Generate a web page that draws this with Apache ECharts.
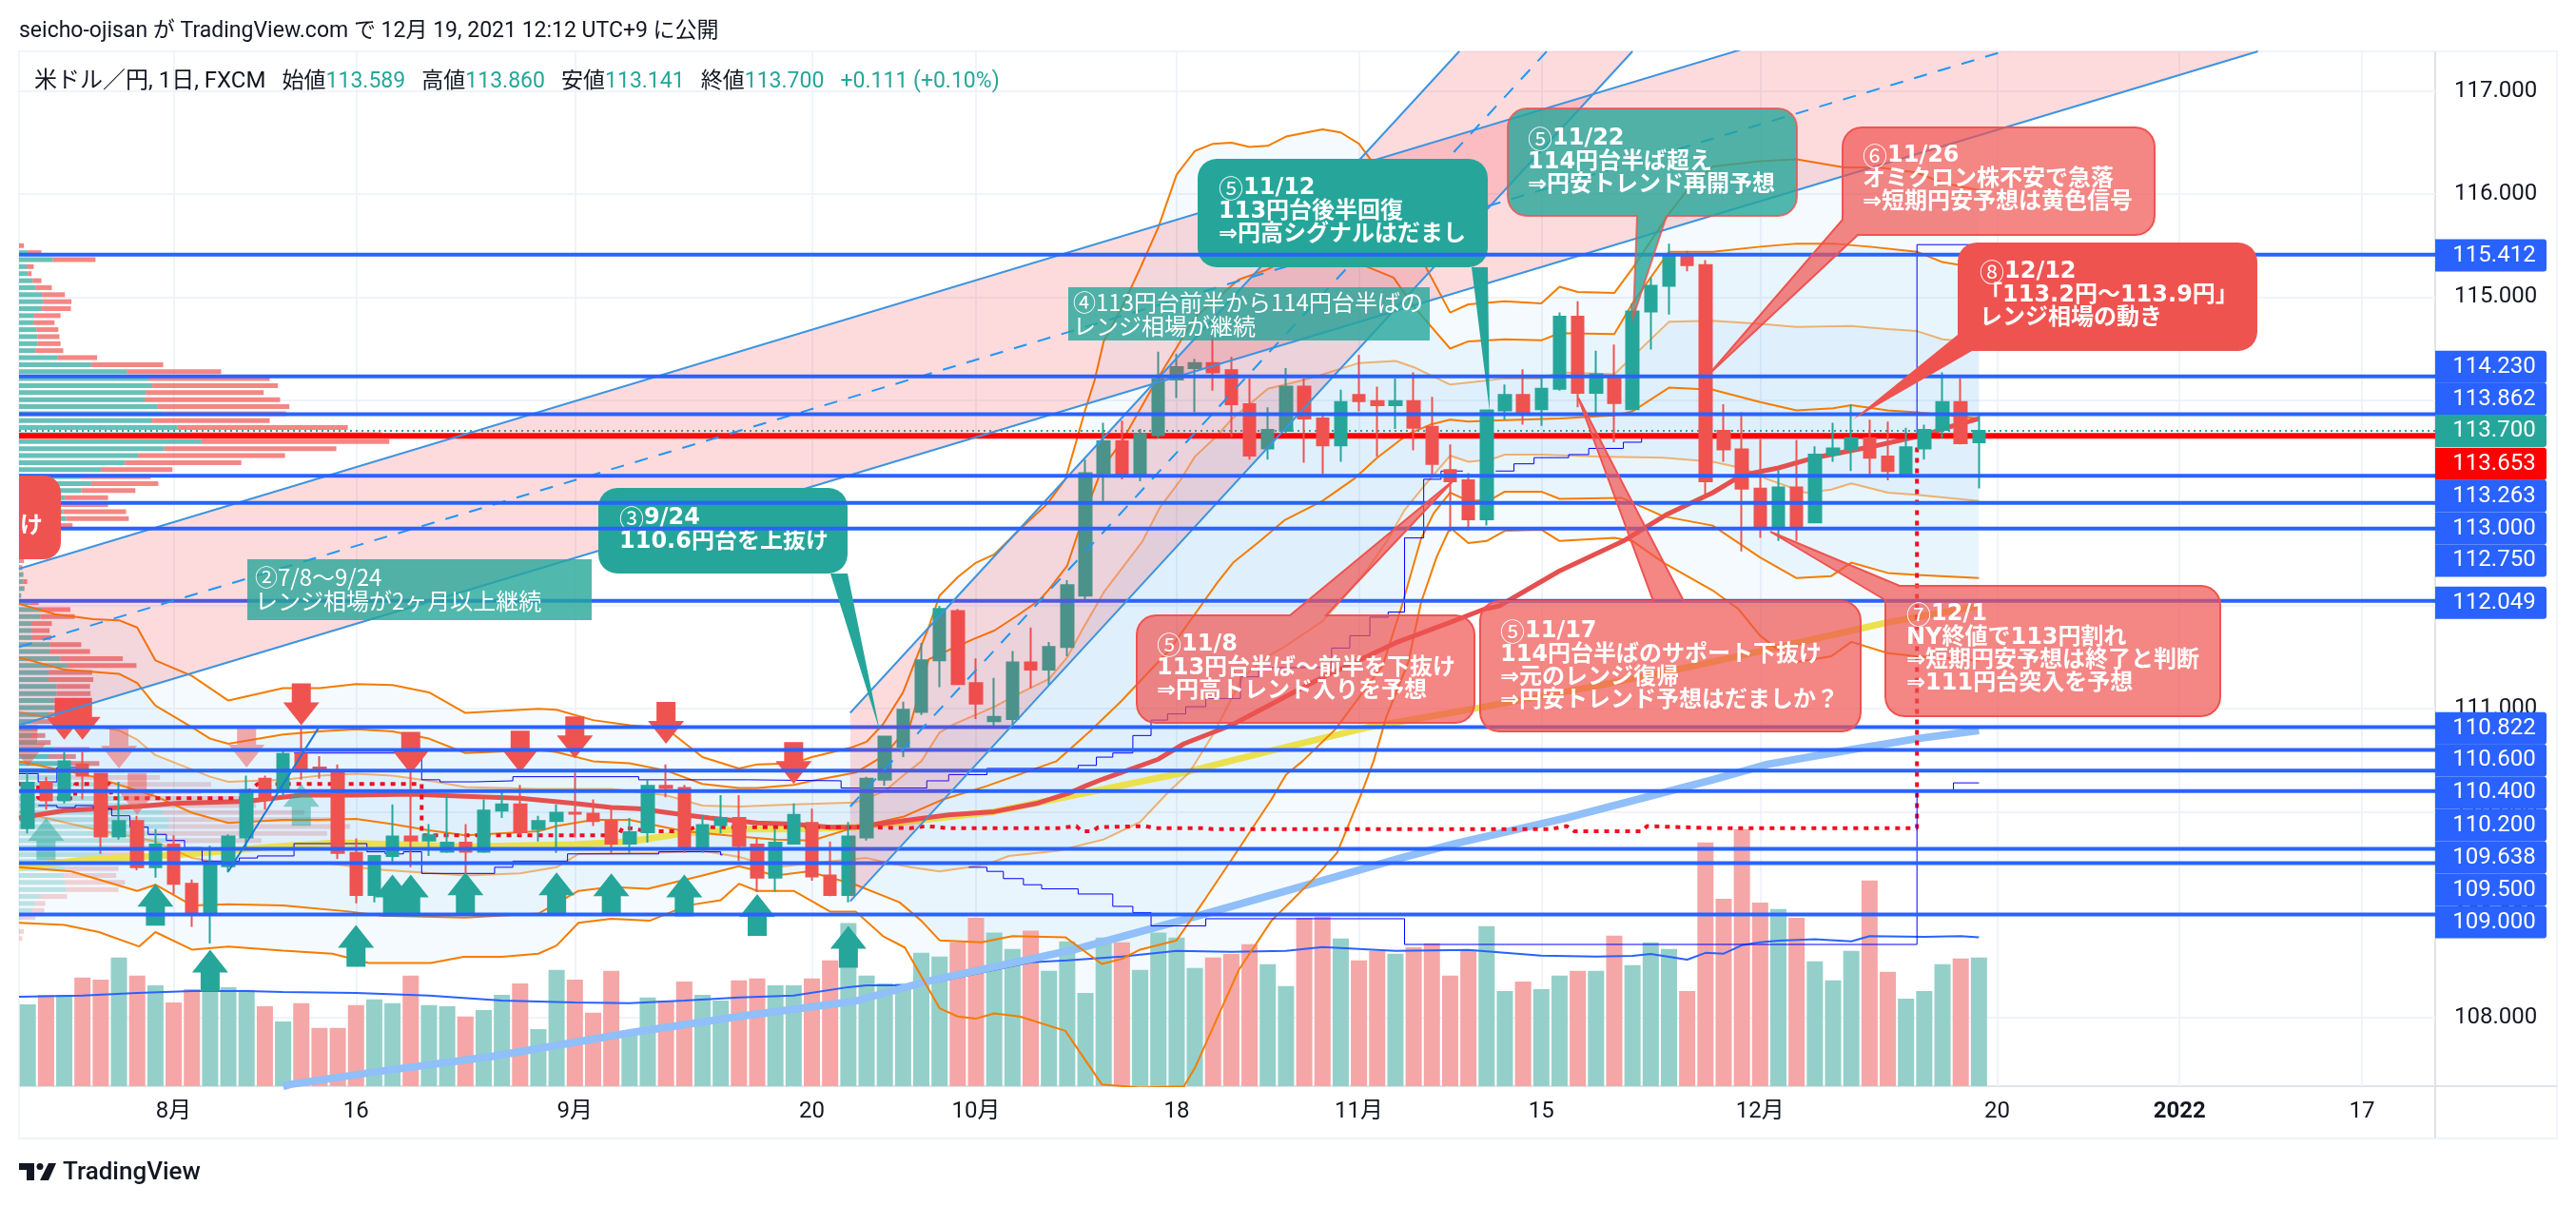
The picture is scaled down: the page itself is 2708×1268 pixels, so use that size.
<!DOCTYPE html>
<html>
<head>
<meta charset="utf-8">
<script src="https://cdn.jsdelivr.net/npm/echarts@6/dist/echarts.min.js"></script>
<style>
html, body { margin: 0; padding: 0; background: #ffffff; }
#container { width: 2708px; height: 1268px; }
</style>
</head>
<body>
<div id="container"></div>
<script type="text/javascript">
// open, close, low, high  (USD/JPY daily, index 0 = 2021-07-21)
var ohlc = [
[109.84,110.28,109.79,110.38],[110.28,110.11,110.02,110.34],[110.11,110.49,110.08,110.58],[110.46,110.35,110.12,110.58],
[110.37,109.76,109.59,110.37],[109.76,109.91,109.73,110.29],[109.91,109.46,109.43,109.96],[109.46,109.68,109.36,109.83],
[109.68,109.30,109.20,109.77],[109.30,109.02,108.88,109.34],[109.02,109.50,108.72,109.67],[109.47,109.76,109.41,109.78],
[109.75,110.21,109.64,110.35],[110.32,110.12,110.02,110.35],[110.21,110.56,110.16,110.59],[110.56,110.42,110.31,110.81],
[110.43,110.41,110.32,110.54],[110.38,109.60,109.54,110.46],[109.60,109.19,109.11,109.74],[109.19,109.57,109.12,109.57],
[109.57,109.76,109.51,110.07],[109.76,109.72,109.46,110.38],[109.72,109.77,109.57,109.88],[109.61,109.70,109.60,110.16],
[109.70,109.61,109.40,109.88],[109.61,110.01,109.60,110.12],[110.01,110.07,109.94,110.21],[110.07,109.80,109.77,110.26],
[109.83,109.91,109.71,109.96],[109.91,109.99,109.60,110.07],[109.99,109.98,109.75,110.38],[109.98,109.91,109.86,110.12],
[109.91,109.69,109.60,110.03],[109.69,109.80,109.60,109.94],[109.80,110.25,109.70,110.31],[110.25,110.23,110.14,110.46],
[110.23,109.64,109.60,110.26],[109.64,109.87,109.60,109.97],[109.87,109.94,109.79,110.16],[109.94,109.67,109.52,110.16],
[109.68,109.36,109.22,109.74],[109.36,109.70,109.22,109.83],[109.69,109.97,109.68,110.08],[109.89,109.37,109.33,110.03],
[109.38,109.19,109.18,109.71],[109.19,109.76,109.12,109.90],[109.75,110.32,109.72,110.34],[110.31,110.73,110.25,110.73],
[110.63,110.99,110.53,111.07],[110.97,111.47,110.94,111.64],[111.47,111.97,111.21,112.00],[111.95,111.24,111.23,111.97],
[111.25,111.05,110.90,111.49],[110.88,110.92,110.82,111.30],[110.90,111.45,110.84,111.56],[111.45,111.38,111.20,111.79],
[111.38,111.60,111.23,111.65],[111.60,112.20,111.51,112.25],[112.10,113.29,112.05,113.42],[113.29,113.60,113.02,113.78],
[113.60,113.27,113.23,113.80],[113.27,113.67,113.21,113.72],[113.66,114.20,113.63,114.47],[114.20,114.32,114.02,114.45],
[114.31,114.36,113.88,114.40],[114.36,114.27,114.09,114.61],[114.29,113.96,113.64,114.42],[113.96,113.46,113.42,114.21],
[113.53,113.71,113.42,113.93],[113.70,114.13,113.68,114.31],[114.13,113.82,113.39,114.21],[113.82,113.56,113.28,113.85],
[113.56,113.98,113.40,114.10],[114.05,113.99,113.89,114.44],[113.99,113.95,113.45,114.13],[113.95,113.99,113.72,114.21],
[113.99,113.73,113.51,114.27],[113.74,113.38,113.27,114.03],[113.32,113.21,112.72,113.57],[113.22,112.84,112.73,113.29],
[112.84,113.90,112.78,113.90],[113.90,114.05,113.81,114.15],[114.05,113.88,113.76,114.30],[113.91,114.11,113.75,114.21],
[114.11,114.81,114.09,114.85],[114.81,114.07,113.93,114.96],[114.07,114.25,113.87,114.48],[114.21,113.97,113.59,114.54],
[113.91,114.86,113.90,114.94],[114.86,115.11,114.49,115.19],[115.11,115.40,114.83,115.52],[115.40,115.31,115.25,115.45],
[115.31,113.21,113.08,115.36],[113.70,113.52,113.40,113.96],[113.52,113.14,112.53,113.88],[113.14,112.77,112.66,113.62],
[112.77,113.15,112.63,113.32],[113.15,112.77,112.63,113.61],[112.81,113.47,112.81,113.55],[113.47,113.53,113.40,113.78],
[113.52,113.63,113.31,113.96],[113.63,113.44,113.28,113.81],[113.45,113.31,113.22,113.79],[113.27,113.54,113.27,113.73],
[113.53,113.71,113.42,113.76],[113.71,113.98,113.63,114.27],[113.98,113.58,113.57,114.21],[113.589,113.700,113.141,113.860]
];
// volume, arbitrary units
var volume = [215,240,240,285,280,338,290,265,220,255,247,260,253,210,170,218,153,153,213,228,218,290,213,210,183,200,240,270,150,305,
280,193,303,140,233,225,275,240,225,278,283,265,265,283,330,428,290,270,270,350,340,378,442,403,360,408,303,380,245,390,
378,305,403,390,310,338,347,373,320,263,442,445,388,330,355,348,365,375,290,355,420,250,275,255,290,303,303,395,318,378,
360,250,640,492,675,482,465,442,328,278,355,540,300,230,250,320,335,338];
var volumeMa = [[-0.48,235],[3,238],[6,245],[9,250],[12,250],[14,247],[18,245],[22,238],[26,225],[30,220],[33,218],[36,225],[39,233],[42,238],[45,260],[46,265],[48,265],[50,275],[55,325],[57,330],[60,340],[63,355],[66,353],[69,355],[71,365],[74,358],[75,355],[79,358],[83,343],[86,340],[88,342],[89,347],[91,332],[92,350],[93,348],[94,370],[95,378],[96,382],[98,386],[100,380],[101,394],[104,392],[106,394],[107,391]];
var bbUpper3 = [[-0.48,112.02],[1.5,111.92],[3.6,111.87],[5,111.86],[6,111.79],[7,111.47],[9,111.32],[11,111.08],[14,111.20],[16,111.20],[18,111.24],[20,111.23],[22,111.16],[24,110.96],[28,111.00],[29,110.99],[31,110.89],[33,110.84],[35,110.81],[37,110.53],[39,110.42],[40,110.46],[42,110.47],[43,110.53],[45.1,110.62],[46,110.68],[46.9,110.85],[48,111.16],[48.7,111.48],[49.4,111.79],[50,112.10],[51,112.28],[52,112.42],[53,112.50],[54.5,112.76],[55.9,112.99],[56.9,113.23],[57.5,113.60],[58,113.91],[58.5,114.19],[59,114.57],[60,114.90],[61,115.28],[62,115.68],[63,116.19],[64,116.42],[65,116.49],[66,116.50],[67,116.46],[68,116.47],[69,116.56],[71,116.63],[72,116.60],[73,116.49],[74,116.25],[76.7,115.28],[78,114.85],[79,114.93],[81,114.96],[83,114.94],[84,115.10],[85,115.05],[87,115.04],[88,115.28],[90,115.81],[91,116.04],[92.4,116.27],[95,116.32],[97,116.34],[99.6,116.26],[101.5,116.26],[103.6,116.21],[105,116.11],[107,116.04]];
var bbUpper2 = [[-0.48,111.50],[2,111.38],[5,111.34],[6,111.25],[7,111.03],[9,110.82],[10,110.71],[11,110.66],[14,110.75],[16,110.78],[18,110.80],[20,110.78],[22,110.71],[24,110.57],[28,110.60],[29,110.58],[31,110.49],[33,110.47],[35,110.40],[37,110.27],[39,110.23],[40,110.23],[42,110.26],[43,110.30],[45.4,110.38],[47,110.55],[48.4,110.85],[49.4,111.48],[50.5,111.57],[51.9,111.68],[53,111.76],[54.3,111.91],[55.5,112.06],[56,112.16],[57,112.39],[57.6,112.71],[58.3,113.05],[58.9,113.33],[60,113.60],[61,113.91],[61.8,114.16],[64,114.80],[66.4,115.17],[68,115.27],[69,115.36],[72,115.40],[74.9,115.19],[76,114.91],[78,114.50],[79,114.57],[81,114.59],[83,114.58],[84,114.65],[87,114.64],[88,114.94],[90,115.44],[92.4,115.44],[95,115.49],[97,115.52],[99,115.52],[101,115.49],[103.6,115.44],[105,115.34],[107,115.28]];
var bbUpper1 = [[-0.48,110.97],[1.5,110.90],[5,110.79],[6,110.70],[7,110.55],[10,110.34],[11,110.29],[14,110.31],[16,110.35],[18,110.37],[20,110.35],[22.4,110.29],[24,110.24],[28,110.22],[32,110.22],[35,110.16],[37,110.06],[39,110.05],[42,110.07],[45.4,110.09],[47,110.20],[48,110.35],[49,110.49],[50,110.77],[50.8,110.85],[53,111.02],[54.5,111.16],[56,111.29],[57,111.50],[57.8,111.76],[59,112.13],[61.1,112.62],[62.1,112.96],[63.2,113.22],[64,113.45],[65.2,113.65],[66,113.81],[68,114.11],[70.3,114.21],[73,114.36],[75,114.38],[76,114.32],[78,114.15],[79,114.17],[81,114.21],[83,114.21],[84,114.27],[87,114.25],[88,114.42],[90,114.76],[92.4,114.77],[95,114.74],[97,114.71],[100,114.72],[102,114.69],[103.6,114.67],[105,114.59],[107,114.56]];
var bbMiddle = [[-0.48,110.49],[3.6,110.34],[7,110.15],[9,109.99],[11,109.89],[14,109.92],[16,109.92],[18,109.93],[20,109.88],[22,109.82],[24,109.77],[28,109.81],[29,109.86],[31,109.92],[33,109.92],[36,109.81],[39,109.76],[41,109.73],[43,109.72],[45.4,109.85],[48,109.95],[50.2,110.12],[52.6,110.25],[56.4,110.49],[58.3,110.79],[60,111.08],[62.6,111.57],[65.25,112.23],[66.1,112.42],[67.5,112.62],[68.9,112.83],[71,113.02],[72.7,113.23],[74,113.44],[75.7,113.67],[76.9,113.76],[78,113.81],[79,113.79],[80.2,113.80],[84,113.82],[87,113.85],[88,113.89],[90,114.12],[92.4,114.10],[95,113.98],[97,113.90],[99,113.92],[100,113.95],[102,113.90],[103.6,113.88],[107,113.82]];
var bbLower1 = [[-0.48,110.00],[3.6,109.83],[7,109.71],[9,109.55],[11,109.49],[14,109.50],[16.4,109.50],[19,109.44],[24,109.38],[27,109.40],[29,109.46],[30.2,109.59],[34.4,109.60],[37,109.62],[39,109.56],[41,109.46],[43,109.50],[46,109.55],[47,109.51],[48.4,109.46],[50,109.42],[51.6,109.46],[52.6,109.49],[53.8,109.57],[56.5,109.62],[59,109.73],[61,109.90],[62.6,110.20],[63.7,110.38],[65,110.75],[66.6,111.30],[68,111.51],[68.9,111.60],[71,111.85],[72.2,112.09],[73.4,112.34],[74.5,112.62],[75.5,112.93],[76.6,113.17],[78,113.46],[79,113.40],[80.2,113.42],[81,113.47],[83,113.47],[86,113.45],[89.7,113.44],[92.4,113.40],[94.2,113.33],[95.4,113.23],[97.5,113.10],[98.9,113.13],[100,113.19],[102,113.10],[103.6,113.08],[107,113.02]];
var bbLower2 = [[-0.48,109.46],[2.4,109.42],[6,109.23],[7,109.29],[9,109.09],[11,109.10],[14,109.09],[17.6,109.03],[19.4,108.99],[24,108.97],[28,109.01],[30.2,109.23],[32,109.27],[34,109.25],[37,109.38],[39,109.47],[41,109.38],[42.8,109.42],[45.4,109.29],[47.8,109.12],[49,108.94],[50,108.75],[52.3,108.73],[54,108.79],[56.9,108.78],[58.9,108.52],[60,108.57],[61,108.66],[63,108.75],[64.6,109.16],[66,109.53],[68.2,110.12],[69,110.36],[69.9,110.49],[71.7,110.80],[74.3,111.42],[75.3,111.97],[76.4,112.65],[77.1,112.90],[78,113.10],[79,113.02],[80.2,113.03],[81,113.11],[83,113.11],[84,113.04],[87.4,113.05],[89.7,112.87],[92.4,112.78],[95,112.47],[97,112.27],[98.9,112.29],[100,112.42],[102,112.32],[103.6,112.30],[107,112.27]];
var bbLower3 = [[-0.48,108.92],[2,108.90],[3.9,108.83],[6.1,108.69],[7,108.83],[9,108.66],[11,108.69],[14,108.65],[16.7,108.62],[18.7,108.53],[22.1,108.53],[23.9,108.59],[26,108.59],[28,108.62],[29,108.70],[30.2,108.92],[32,108.96],[34.1,108.94],[36.2,109.09],[38,109.14],[39,109.30],[40,109.23],[42,109.23],[44,109.03],[45.4,109.03],[46.9,108.79],[48.1,108.68],[50,108.09],[51,108.01],[52,107.99],[53,108.04],[54.4,108.01],[56.9,107.87],[58.9,107.35],[61,107.32],[63.4,107.33],[64,107.51],[66.4,108.46],[68.2,108.94],[70.3,109.31],[70.9,109.42],[71.8,109.60],[73.1,110.16],[73.8,110.49],[74.5,110.92],[75.7,111.45],[76.4,112.03],[77.25,112.47],[78,112.76],[79,112.61],[80,112.63],[81,112.73],[83,112.74],[84,112.63],[87,112.66],[88,112.63],[89.7,112.42],[92.4,112.15],[93.8,111.97],[95,111.71],[96.9,111.45],[98.9,111.51],[100,111.65],[102,111.54],[103.6,111.51],[107,111.47]];
var maFast = [[-0.48,109.94],[2,110.01],[6,110.05],[8,110.08],[12,110.10],[15,110.16],[18,110.16],[21,110.17],[24,110.15],[27,110.13],[30,110.08],[32,110.04],[33.5,110.03],[36,109.97],[37.4,109.94],[40,109.89],[42,109.88],[44,109.85],[45.4,109.85],[48.4,109.92],[50.5,109.97],[53,110.00],[55.3,110.08],[57.1,110.18],[58,110.25],[59,110.32],[62,110.51],[63.4,110.66],[66,110.84],[70.6,111.27],[75,111.64],[78,111.84],[79.9,111.97],[80.7,112.00],[84,112.34],[87.5,112.63],[89.9,112.89],[92.4,113.10],[94,113.27],[96,113.34],[98,113.44],[101.2,113.55],[104,113.66],[105.4,113.74],[107,113.82]];
var maMid = [[-0.48,109.46],[3,109.53],[9,109.59],[13.5,109.66],[17,109.70],[24,109.66],[30,109.68],[33,109.71],[36,109.79],[39,109.83],[42,109.83],[45.4,109.85],[48,109.90],[53,110.00],[57.4,110.16],[63.4,110.38],[67.9,110.58],[73.5,110.82],[79.6,111.01],[86,111.22],[92,111.44],[96,111.60],[100,111.76],[102,111.84],[107,112.00]];
var maSlow = [[14,107.33],[14.4,107.35],[19.4,107.48],[25.4,107.62],[33,107.85],[39,108.01],[45.4,108.16],[49.3,108.35],[57.4,108.66],[64,108.98],[71,109.33],[75.3,109.55],[78.3,109.69],[84.4,109.94],[92.4,110.31],[95.4,110.46],[99.9,110.60],[103.6,110.71],[107,110.79]];
var redDotted = [[-0.48,110.27],[0.57,110.27],[0.57,110.13],[2.6,110.13],[2.6,110.27],[4.5,110.27],[4.6,110.13],[11.7,110.13],[12.6,110.27],[21.6,110.27],[21.6,109.77],[32.4,109.77],[32.6,109.84],[33,109.84],[34,109.81],[36,109.81],[36.6,109.85],[45.4,109.85],[48.4,109.84],[49.3,109.86],[50.5,109.84],[56.5,109.84],[57.5,109.86],[57.8,109.81],[58.4,109.81],[58.7,109.85],[61.3,109.86],[61.8,109.84],[64.6,109.84],[65,109.83],[83.5,109.83],[84.4,109.86],[84.8,109.81],[88.5,109.81],[88.8,109.86],[92.4,109.84],[103.6,109.84],[103.6,113.55]];
var stepUpper = [[-0.48,110.37],[0.57,110.29],[1.6,110.43],[2.6,110.43],[2.7,null],[11.6,110.39],[12.6,110.39],[12.7,null],[14.6,110.57],[21.6,110.31],[22.6,110.29],[24.5,110.30],[26.6,110.34],[33.5,110.31],[39.5,110.30],[44.6,110.23],[49.3,110.30],[50.5,110.36],[52.6,110.42],[57.6,110.45],[58.6,110.53],[59.5,110.57],[60.6,110.74],[61.6,110.89],[62.5,110.95],[63.5,111.02],[64.6,111.10],[66.5,111.31],[67.5,111.40],[71.5,111.59],[72.5,111.71],[73.6,111.89],[74.6,111.94],[75.5,112.66],[76.55,113.23],[77.5,113.31],[78.6,113.31],[78.7,null],[80.5,113.31],[81.5,113.38],[82.6,113.44],[84.5,113.47],[85.6,113.53],[87.5,113.59],[88.5,113.63],[103.6,115.51],[107,115.51]];
var stepLower = [[0.57,110.06],[1.6,110.04],[2.6,110.06],[3.6,110.03],[4.6,109.96],[5.6,109.85],[6.6,109.78],[7.6,109.72],[8.6,109.65],[9.56,109.52],[11.6,109.55],[12.6,109.57],[14.6,109.69],[17.6,109.69],[18.6,109.61],[19.6,109.59],[20.6,109.61],[21.6,109.40],[25.6,109.46],[26.6,109.52],[29.6,109.59],[34.6,109.61],[38,109.58],[38.1,null],[51.6,109.46],[52.6,109.42],[53.5,109.35],[54.6,109.29],[55.6,109.25],[57.6,109.20],[59.5,109.08],[60.6,109.02],[61.6,108.89],[64.6,108.96],[75.5,108.71],[103.6,110.20],[105.6,110.28],[107,110.28]];
var arrowsUp = [[1,109.94,1],[7,109.30,0],[10,108.66,0],[15,110.27,1],[18,108.90,0],[20,109.39,0],[21,109.39,0],[24,109.41,0],[29,109.41,0],[32,109.40,0],[36,109.39,0],[40,109.20,0],[45,108.89,0]];
var arrowsDown = [[0,110.44,1],[2,110.70,0],[3,110.70,0],[5,110.42,1],[6,109.97,1],[12,110.43,1],[15,110.84,0],[21,110.37,0],[27,110.38,0],[30,110.52,0],[35,110.66,0],[42,110.27,0]];
var priceLinesLow = [112.049,110.822,110.600,110.400,110.200,109.638,109.500,109.000];
var priceLinesHigh = [115.412,114.230,113.862,113.263,113.000,112.750];
var lastClose = 113.700;
var keyLevel = 113.653;
var tagPrices = [115.412,114.230,113.862,113.700,113.653,113.263,113.000,112.750,112.049,110.822,110.600,110.400,110.200,109.638,109.500,109.000];
var priceTicks = [108,109,110,111,112,113,114,115,116,117];
var timeTicks = [8,18,30,43,52,63,73,83,95,108,118,128];
var timeLabels = ['8月','16','9月','20','10月','18','11月','15','12月','20','2022','17'];
// [up, down] volume-profile rows, top row first
var profile = [[0,9],[16,25],[62,78],[14,13],[16,7],[25,16],[30,30],[42,42],[44,52],[42,53],[28,48],[26,39],[32,40],[34,40],[34,42],[30,51],[70,73],[132,132],[197,173],[237,222],[244,230],[232,216],[230,248],[254,241],[264,225],[244,215],[290,312],[314,350],[334,344],[266,315],[218,269],[194,213],[150,131],[114,127],[132,123],[114,99],[84,79],[79,84],[81,115],[86,115],[54,44],[34,25],[19,15],[9,15],[4,10],[2,7],[2,4],[8,0],[8,7],[10,0],[4,0],[20,16],[42,52],[39,63],[24,36],[24,32],[24,35],[57,57],[56,74],[76,114],[89,126],[54,80],[54,82],[69,61],[69,62],[64,68],[64,50],[54,30],[24,40],[24,10],[24,24],[34,24],[64,65],[54,50],[84,63],[52,62],[94,164],[164,188],[104,230],[194,210],[204,230],[264,258],[274,300],[274,332],[239,325],[269,175],[164,80],[154,50],[84,98],[84,98],[82,96],[84,110],[86,96],[39,49],[29,19],[24,22],[4,26],[0,0],[2,7],[0,6]];

var symbolFont = '"Noto Sans CJK JP", sans-serif';
var latinFont = 'Roboto, "Noto Sans CJK JP", sans-serif';
var teal = '#26a69a', red = '#ef5350', blue = '#2962ff';
var xMin = -0.48, xMax = 132.02, yMin = 107.333, yMax = 117.388;

var dom = document.getElementById('container');
var myChart = echarts.init(dom, null, { renderer: 'canvas' });

function line(name, data, color, width, z, extra) {
	var s = { name: name, type: 'line', data: data, symbol: 'none', silent: true, animation: false, z: z,
		lineStyle: { color: color, width: width }, clip: true };
	if (extra) { for (var k in extra) { s[k] = extra[k]; } }
	return s;
}

function polygon(points, color, z) {
	return { type: 'custom', data: [0], silent: true, animation: false, z: z, clip: true,
		renderItem: function (params, api) {
			return { type: 'polygon', shape: { points: points.map(function (p) { return api.coord(p); }) }, style: { fill: color } };
		} };
}

function band(upper, lower, z) {
	return polygon(upper.concat(lower.slice().reverse()), 'rgba(33,150,243,0.05)', z);
}

function priceLines(levels, color, width, z, dash) {
	return { type: 'custom', data: levels.map(function (v) { return [v]; }), silent: true, animation: false, z: z, clip: true,
		encode: { y: 0 },
		renderItem: function (params, api) {
			var v = api.value(0), a = api.coord([xMin, v]), b = api.coord([xMax, v]);
			return { type: 'line', shape: { x1: a[0], y1: a[1], x2: b[0], y2: b[1] }, style: { stroke: color, lineWidth: width, lineDash: dash || null } };
		} };
}

function arrows(data, dir, color, z) {
	return { type: 'custom', data: data, silent: true, animation: false, z: z, clip: true,
		renderItem: function (params, api) {
			var p = api.coord([api.value(0), api.value(1)]), x = p[0], y = p[1];
			var pts = [[x, y], [x + 19, y + dir * 24], [x + 10, y + dir * 24], [x + 10, y + dir * 44], [x - 10, y + dir * 44], [x - 10, y + dir * 24], [x - 19, y + dir * 24]];
			return { type: 'polygon', shape: { points: pts }, style: { fill: color, opacity: api.value(2) ? 0.5 : 1 } };
		} };
}

var profileTop = 115.50, profileStep = 0.068, profileScale = 0.02995;
var profileSeries = { type: 'custom', silent: true, animation: false, z: 1, clip: true,
	data: profile.map(function (r, i) { return [i, r[0], r[1]]; }),
	renderItem: function (params, api) {
		var row = api.value(0), up = api.value(1), down = api.value(2);
		var p = profileTop - row * profileStep;
		var a = api.coord([xMin, p]), b = api.coord([xMin + up * profileScale, p]), c = api.coord([xMin + (up + down) * profileScale, p]);
		var pale = row >= 76;
		return { type: 'group', children: [
			{ type: 'rect', shape: { x: a[0], y: a[1] - 2.5, width: b[0] - a[0], height: 5 }, style: { fill: 'rgba(38,166,154,' + (pale ? 0.28 : 0.7) + ')' } },
			{ type: 'rect', shape: { x: b[0], y: a[1] - 2.5, width: c[0] - b[0], height: 5 }, style: { fill: 'rgba(239,83,80,' + (pale ? 0.25 : 0.7) + ')' } }
		] };
	} };

// pink regression channels
var chanA = { up: [[-0.48,112.36],[122.3,118.92]], mid: [[-0.48,111.60],[122.3,118.13]], low: [[-0.48,110.84],[122.3,117.388]] };
var chanB = { up: [[45.1,110.96],[78.5,117.388]], mid: [[45.1,110.05],[83.3,117.388]], low: [[45.1,109.13],[88,117.388]] };
var chanC = [[11,109.42],[16,110.83]];
var chanFill = 'rgba(242,54,69,0.18)', chanLine = '#3d94e0';
var chanDash = { lineStyle: { color: '#2196f3', width: 2, type: [14, 12] } };

var series = [
	profileSeries,
	band(bbUpper3, bbLower3, 2), band(bbUpper2, bbLower2, 2), band(bbUpper1, bbLower1, 2),
	{ name: 'Volume', type: 'bar', xAxisIndex: 0, yAxisIndex: 1, barWidth: 17, silent: true, animation: false, z: 3,
		data: volume.map(function (v, i) { return [i, v]; }),
		itemStyle: { color: function (p) { var c = ohlc[p.dataIndex]; return c[1] >= c[0] ? '#94d0c9' : '#f5a6a6'; } } },
	line('VolMA', volumeMa, blue, 2, 4, { yAxisIndex: 1 }),
	line('MA200', maSlow, '#90bff9', 8, 4),
	line('MA75', maMid, '#ebe04f', 7, 4),
	line('+3', bbUpper3, '#f57c00', 2, 4.1), line('+2', bbUpper2, '#f57c00', 2, 4.1), line('+1', bbUpper1, 'rgba(245,124,0,0.55)', 2, 4.1),
	line('mid', bbMiddle, '#f57c00', 2, 4.1),
	line('-1', bbLower1, 'rgba(245,124,0,0.55)', 2, 4.1), line('-2', bbLower2, '#f57c00', 2, 4.1), line('-3', bbLower3, '#f57c00', 2, 4.1),
	line('MA25', maFast, '#e5504f', 5, 4.2),
	line('Lag', redDotted, '#ff0000', 4, 4.3, { lineStyle: { color: '#f00f20', width: 4, type: [5, 6] } }),
	line('StepUpper', stepUpper, '#0000ff', 1, 4.3, { step: 'end' }),
	line('StepLower', stepLower, '#0000ff', 1, 4.3, { step: 'end' }),
	priceLines([keyLevel], '#ff0000', 6, 4.5),
	priceLines([lastClose], teal, 2, 4.6, [2, 4]),
	{ name: 'USDJPY', type: 'candlestick', silent: true, animation: false, z: 5, barWidth: 13,
		data: ohlc.map(function (c, i) { return [i, c[0], c[1], c[2], c[3]]; }),
		encode: { x: 0, y: [1, 2, 3, 4] },
		itemStyle: { color: teal, color0: red, borderColor: teal, borderColor0: red, borderWidth: 2 } },
	arrows(arrowsUp, 1, teal, 6),
	arrows(arrowsDown, -1, red, 6),
	priceLines(priceLinesLow, blue, 4, 7),
	polygon([chanA.up[0], chanA.up[1], chanA.low[1], chanA.low[0]], chanFill, 8),
	polygon([chanB.up[0], chanB.up[1], chanB.low[1], chanB.low[0]], chanFill, 8),
	line('chA1', chanA.up, chanLine, 2, 9), line('chA2', chanA.low, chanLine, 2, 9), line('chA3', chanA.mid, '#2196f3', 2, 9, chanDash),
	line('chB1', chanB.up, chanLine, 2, 9), line('chB2', chanB.low, chanLine, 2, 9), line('chB3', chanB.mid, '#2196f3', 2, 9, chanDash),
	line('chC', chanC, '#1e78d8', 2, 9),
	priceLines(priceLinesHigh, blue, 4, 10)
];

// callouts
var calloutFont = 'bold 24px "DejaVu Sans", "Noto Sans CJK JP", sans-serif';
var circledFont = '26px "Noto Sans CJK JP", sans-serif';
var callouts = [
	{ z: 9.5, x: 629, y: 513, w: 262, h: 90, fill: teal, tail: { side: 'bottom', a: 873, b: 891, tip: [925, 769] }, tx: 651, ty: 533, lines: ['③9/24', '110.6円台を上抜け'] },
	{ z: 9.5, x: 1259, y: 167, w: 305, h: 114, fill: teal, tail: { side: 'bottom', a: 1547, b: 1564, tip: [1566, 433] }, tx: 1281, ty: 186, lines: ['⑤11/12', '113円台後半回復', '⇒円高シグナルはだまし'] },
	{ z: 11, x: 1585, y: 114, w: 304, h: 113, fill: 'rgba(38,166,154,0.8)', stroke: 'rgba(239,83,80,0.8)', tail: { side: 'bottom', a: 1721, b: 1752, tip: [1717, 333] }, tx: 1606, ty: 134, lines: ['⑤11/22', '114円台半ば超え', '⇒円安トレンド再開予想'] },
	{ z: 11, x: 1937, y: 134, w: 328, h: 113, fill: 'rgba(239,83,80,0.7)', stroke: red, tail: { side: 'bottomleft', a: 1953, b: 231, tip: [1797, 393] }, tx: 1958, ty: 152, lines: ['⑥11/26', 'オミクロン株不安で急落', '⇒短期円安予想は黄色信号'] },
	{ z: 11, x: 2058, y: 255, w: 315, h: 114, fill: red, tail: { side: 'bottomleft', a: 2073, b: 352, tip: [1948, 441] }, tx: 2081, ty: 274, lines: ['⑧12/12', '「113.2円～113.9円」', 'レンジ相場の動き'] },
	{ z: 11, x: 1982, y: 616, w: 352, h: 137, fill: 'rgba(239,83,80,0.7)', stroke: red, tail: { side: 'topleft', a: 1997, b: 631, tip: [1861, 559] }, tx: 2004, ty: 634, lines: ['⑦12/1', 'NY終値で113円割れ', '⇒短期円安予想は終了と判断', '⇒111円台突入を予想'] },
	{ z: 11, x: 1195, y: 647, w: 355, h: 113, fill: 'rgba(239,83,80,0.7)', stroke: red, tail: { side: 'top', a: 1356, b: 1394, tip: [1528, 505] }, tx: 1216, ty: 666, lines: ['⑤11/8', '113円台半ば～前半を下抜け', '⇒円高トレンド入りを予想'] },
	{ z: 11, x: 1556, y: 632, w: 400, h: 137, fill: 'rgba(239,83,80,0.7)', stroke: red, tail: { side: 'top', a: 1738, b: 1770, tip: [1659, 418] }, tx: 1577, ty: 652, lines: ['⑤11/17', '114円台半ばのサポート下抜け', '⇒元のレンジ復帰', '⇒円安トレンド予想はだましか？'] }
];
var notes = [
	{ x: 1123, y: 302, w: 380, h: 56, tx: 1128, ty: 306, lines: ['④113円台前半から114円台半ばの', 'レンジ相場が継続'] },
	{ x: 260, y: 588, w: 362, h: 64, tx: 268, ty: 595, lines: ['②7/8～9/24', 'レンジ相場が2ヶ月以上継続'] }
];

function corner(cx, cy, from) {
	var pts = [], r = 20;
	for (var k = 0; k <= 6; k++) {
		var a = (from + k * 15) * Math.PI / 180;
		pts.push([cx + r * Math.cos(a), cy + r * Math.sin(a)]);
	}
	return pts;
}

function calloutPoints(c) {
	var x = c.x, y = c.y, r = 20, R = c.x + c.w, B = c.y + c.h, t = c.tail, pts = [];
	if (t.side === 'topleft') {
		pts.push([x, t.b], t.tip, [t.a, y]);
	} else {
		pts = pts.concat(corner(x + r, y + r, 180));
	}
	if (t.side === 'top') { pts.push([t.a, y], t.tip, [t.b, y]); }
	pts = pts.concat(corner(R - r, y + r, 270), corner(R - r, B - r, 0));
	if (t.side === 'bottom') { pts.push([t.b, B], t.tip, [t.a, B]); }
	if (t.side === 'bottomleft') {
		pts.push([t.a, B], t.tip, [x, t.b]);
	} else {
		pts = pts.concat(corner(x + r, B - r, 90));
	}
	return pts;
}

// the circled number needs its own face, the rest of the line stays in the bold one
function calloutText(lines) {
	return lines.map(function (l, i) {
		return (i === 0 ? '{c|' + l.charAt(0) + '}{b|' + l.slice(1) + '}' : '{b|' + l + '}');
	}).join('\n');
}

var graphics = [];
// frame and axis separators
graphics.push({ type: 'rect', z: 0, silent: true, shape: { x: 20, y: 54, width: 2668, height: 1143 }, style: { fill: null, stroke: '#f0f3fa', lineWidth: 2 } });
graphics.push({ type: 'line', z: 0, silent: true, shape: { x1: 2560, y1: 54, x2: 2560, y2: 1197 }, style: { stroke: '#e0e3eb', lineWidth: 2 } });
graphics.push({ type: 'line', z: 0, silent: true, shape: { x1: 20, y1: 1142, x2: 2688, y2: 1142 }, style: { stroke: '#e0e3eb', lineWidth: 2 } });

callouts.forEach(function (c) {
	graphics.push({ type: 'polygon', z: c.z, silent: true, shape: { points: calloutPoints(c) }, style: { fill: c.fill, stroke: c.stroke || null, lineWidth: 2 } });
	graphics.push({ type: 'text', z: c.z, silent: true, x: c.tx, y: c.ty, style: { text: calloutText(c.lines), fill: '#ffffff',
		rich: { c: { font: circledFont, fill: '#ffffff', lineHeight: 24.3 }, b: { font: calloutFont, fill: '#ffffff', lineHeight: 24.3 } } } });
});
notes.forEach(function (c) {
	graphics.push({ type: 'rect', z: 11, silent: true, shape: { x: c.x, y: c.y, width: c.w, height: c.h }, style: { fill: 'rgba(38,166,154,0.8)' } });
	graphics.push({ type: 'text', z: 11, silent: true, x: c.tx, y: c.ty, style: { text: c.lines.join('\n'), fill: '#ffffff', font: '24px ' + symbolFont, lineHeight: 24.3 } });
});
// callout running off the left edge of the chart
graphics.push({ type: 'rect', z: 11, silent: true, shape: { x: 20, y: 500, width: 44, height: 88, r: [0, 18, 18, 0] }, style: { fill: red } });
graphics.push({ type: 'text', z: 11, silent: true, x: 21, y: 542, style: { text: 'け', fill: '#ffffff', font: calloutFont } });

// right-hand price tags, stacked the way the platform spreads them
var tagCenters = [268.6, 385.7, 419.6, 453, 487.8, 521.6, 555.5, 589.4, 633.8, 765.7, 799.4, 833.4, 867.5, 901.5, 935.6, 969.6];
tagPrices.forEach(function (v, i) {
	var fill = v === lastClose ? teal : (v === keyLevel ? '#ff0000' : blue);
	graphics.push({ type: 'rect', z: 20, silent: true, shape: { x: 2560, y: tagCenters[i] - 17, width: 117, height: 34, r: [0, 3, 3, 0] }, style: { fill: fill } });
	graphics.push({ type: 'text', z: 21, silent: true, x: 2622, y: tagCenters[i], style: { text: v.toFixed(3), fill: '#ffffff', font: '24px Roboto', textAlign: 'center', textVerticalAlign: 'middle' } });
});

// TradingView logo
graphics.push({ type: 'polygon', z: 1, silent: true, shape: { points: [[20, 1223], [36, 1223], [36, 1241], [28, 1241], [28, 1230], [20, 1230]] }, style: { fill: '#131722' } });
graphics.push({ type: 'circle', z: 1, silent: true, shape: { cx: 42, cy: 1226.5, r: 3.5 }, style: { fill: '#131722' } });
graphics.push({ type: 'polygon', z: 1, silent: true, shape: { points: [[51, 1223], [59, 1223], [51, 1241], [42, 1241]] }, style: { fill: '#131722' } });
graphics.push({ type: 'text', z: 1, silent: true, x: 66, y: 1233, style: { text: 'TradingView', fill: '#131722', font: '500 26px Roboto', textVerticalAlign: 'middle' } });

var option = {
	backgroundColor: '#ffffff',
	animation: false,
	title: [
		{ left: 20, top: 22, padding: 0, text: 'seicho-ojisan が TradingView.com で 12月 19, 2021 12:12 UTC+9 に公開', textStyle: { fontFamily: latinFont, fontSize: 23, fontWeight: 'normal', color: '#131722' } },
		{ left: 36, top: 74, padding: 0,
			text: '{h|米ドル／円, 1日, FXCM}{k|   始値}{v|113.589}{k|   高値}{v|113.860}{k|   安値}{v|113.141}{k|   終値}{v|113.700}{v|   +0.111 (+0.10%)}',
			textStyle: { rich: {
				h: { fontFamily: latinFont, fontSize: 24, fontWeight: 'normal', color: '#131722' },
				k: { fontFamily: latinFont, fontSize: 23, fontWeight: 'normal', color: '#131722' },
				v: { fontFamily: latinFont, fontSize: 23, fontWeight: 'normal', color: teal }
			} } }
	],
	grid: { left: 20, right: 148, top: 54, bottom: 126, containLabel: false },
	xAxis: { type: 'value', min: xMin, max: xMax, axisLine: { show: false },
		axisTick: { show: false, customValues: timeTicks },
		splitLine: { show: true, lineStyle: { color: '#f0f3fa', width: 2 } },
		axisLabel: { customValues: timeTicks, margin: 15, color: '#131722', fontFamily: latinFont, fontSize: 24,
			formatter: function (v) { var s = timeLabels[timeTicks.indexOf(v)]; return s === '2022' ? '{b|2022}' : s; },
			rich: { b: { fontFamily: latinFont, fontSize: 24, fontWeight: 'bold', color: '#131722' } } } },
	yAxis: [
		{ type: 'value', position: 'right', min: yMin, max: yMax, axisLine: { show: false },
			axisTick: { show: false, customValues: priceTicks },
			splitLine: { show: true, lineStyle: { color: '#f0f3fa', width: 2 } },
			axisLabel: { customValues: priceTicks, margin: 20, color: '#131722', fontFamily: latinFont, fontSize: 24,
				formatter: function (v) { return v.toFixed(3); } } },
		{ type: 'value', min: 0, max: 2717, show: false, splitLine: { show: false } }
	],
	series: series,
	graphic: { elements: graphics }
};

myChart.setOption(option, true);
</script>
</body>
</html>
